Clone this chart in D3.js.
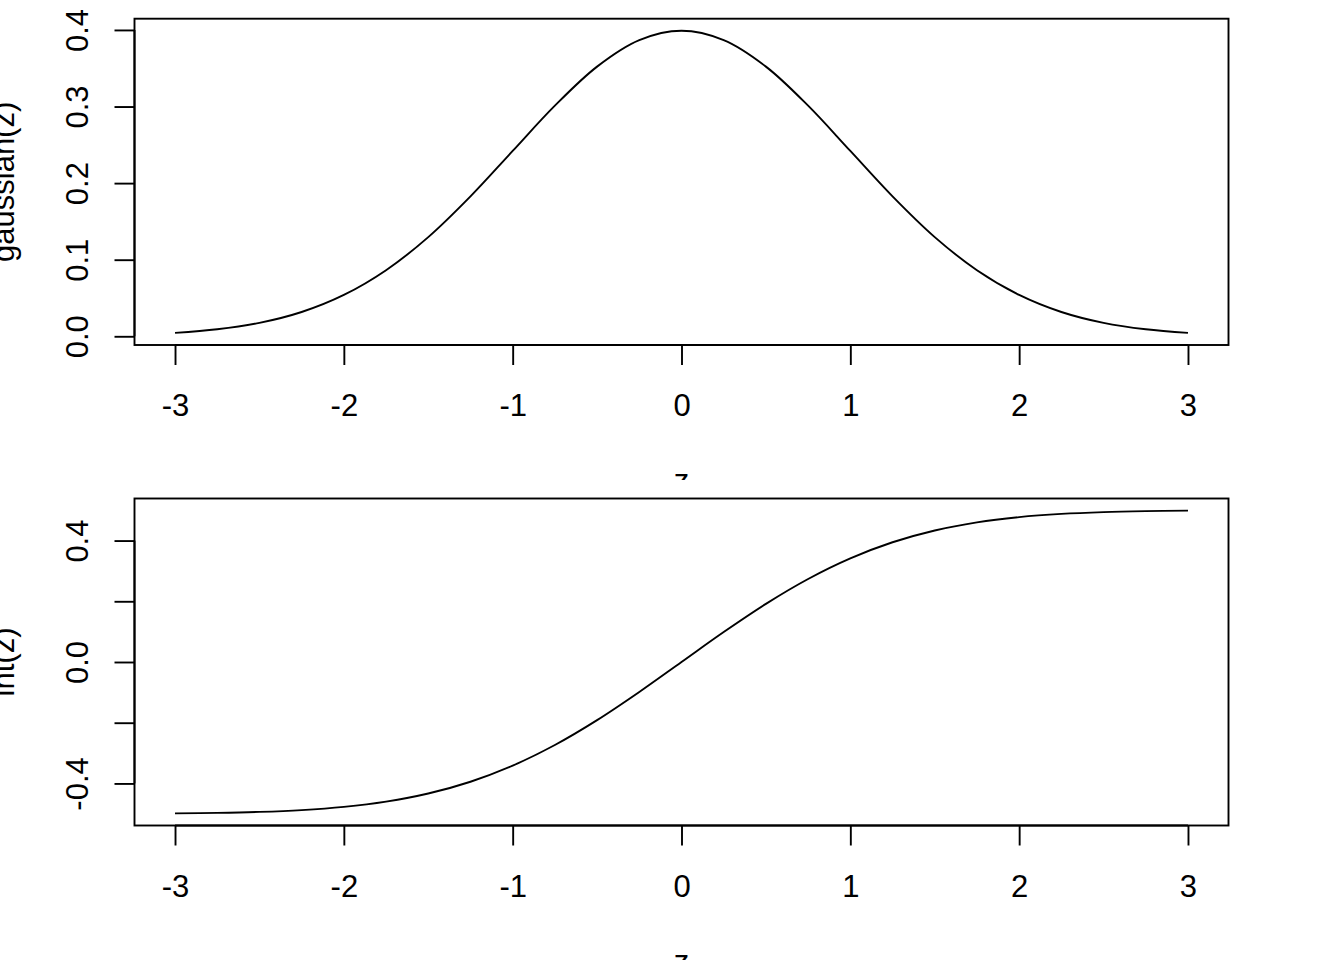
<!DOCTYPE html>
<html>
<head>
<meta charset="utf-8">
<script src="https://cdn.jsdelivr.net/npm/d3@7"></script>
<style>
  html, body { margin: 0; padding: 0; background: #fff; }
  svg { display: block; }
  text { font-family: "Liberation Sans", Arial, Helvetica, sans-serif; fill: #000; }
</style>
</head>
<body>
<svg id="chart" width="1344" height="960"></svg>
<script>
// z values (x axis), read at 0.25 steps
const zValues = [-3, -2.75, -2.5, -2.25, -2, -1.75, -1.5, -1.25, -1, -0.75, -0.5, -0.25, 0,
                 0.25, 0.5, 0.75, 1, 1.25, 1.5, 1.75, 2, 2.25, 2.5, 2.75, 3];
// top panel: gaussian(z)
const gaussianValues = [0.0044, 0.0091, 0.0175, 0.0317, 0.0540, 0.0863, 0.1295, 0.1827, 0.2420, 0.3011, 0.3521, 0.3867, 0.3989,
                        0.3867, 0.3521, 0.3011, 0.2420, 0.1827, 0.1295, 0.0863, 0.0540, 0.0317, 0.0175, 0.0091, 0.0044];
// bottom panel: int(z)
const intValues = [-0.4987, -0.4970, -0.4938, -0.4878, -0.4772, -0.4599, -0.4332, -0.3944, -0.3413, -0.2734, -0.1915, -0.0987, 0,
                   0.0987, 0.1915, 0.2734, 0.3413, 0.3944, 0.4332, 0.4599, 0.4772, 0.4878, 0.4938, 0.4970, 0.4987];
// tick values and labels
const xTicks = [-3, -2, -1, 0, 1, 2, 3];
const xTickLabels = ["-3", "-2", "-1", "0", "1", "2", "3"];
const yTicksTop = [0.0, 0.1, 0.2, 0.3, 0.4];
const yTickLabelsTop = ["0.0", "0.1", "0.2", "0.3", "0.4"];
const yTicksBottom = [-0.4, -0.2, 0.0, 0.2, 0.4];
const yTickLabelsBottom = ["-0.4", "", "0.0", "", "0.4"];
const xLabel = "z";
const yLabelTop = "gaussian(z)";
const yLabelBottom = "int(z)";

const svg = d3.select("#chart");
const FONT = 31;
const LW = 1.9;

// R-style 4% axis extension
function rDomain(vals) {
  const [a, b] = d3.extent(vals);
  const d = (b - a) * 0.04;
  return [a - d, b + d];
}

function panel(cfg) {
  const { figTop, boxTop, boxBottom, values, yTicks, yLabels, yLabel, id } = cfg;
  const left = 134.5, right = 1228.5;

  svg.append("clipPath").attr("id", "clip" + id)
    .append("rect").attr("x", 0).attr("y", figTop).attr("width", 1344).attr("height", 480);
  const g = svg.append("g").attr("clip-path", `url(#clip${id})`);

  const x = d3.scaleLinear().domain(rDomain(zValues)).range([left, right]);
  const y = d3.scaleLinear().domain(rDomain(values)).range([boxBottom, boxTop]);

  // curve
  const line = d3.line()
    .x((d, i) => x(zValues[i]))
    .y(d => y(d))
    .curve(d3.curveCatmullRom.alpha(0.5));
  g.append("path").datum(values)
    .attr("d", line)
    .attr("fill", "none")
    .attr("stroke", "#000")
    .attr("stroke-width", LW);

  // x axis
  const xAxis = d3.axisBottom(x).tickValues(xTicks)
    .tickFormat((d, i) => xTickLabels[i])
    .tickSize(20).tickPadding(0).tickSizeOuter(0);
  const gx = g.append("g").attr("transform", `translate(0,${boxBottom})`).call(xAxis);
  gx.select(".domain").attr("d", `M${x(xTicks[0])},0H${x(xTicks[xTicks.length - 1])}`)
    .attr("stroke", "#000").attr("stroke-width", LW);
  gx.selectAll(".tick line").attr("stroke", "#000").attr("stroke-width", LW);
  gx.selectAll(".tick text")
    .attr("y", 71).attr("dy", null)
    .style("font-size", FONT + "px")
    .style("font-family", '"Liberation Sans", Arial, sans-serif')
    .attr("fill", "#000");

  // y axis
  const yAxis = d3.axisLeft(y).tickValues(yTicks)
    .tickFormat((d, i) => yLabels[i])
    .tickSize(20).tickPadding(0).tickSizeOuter(0);
  const gy = g.append("g").attr("transform", `translate(${left},0)`).call(yAxis);
  gy.select(".domain").attr("d", `M0,${y(yTicks[0])}V${y(yTicks[yTicks.length - 1])}`)
    .attr("stroke", "#000").attr("stroke-width", LW);
  gy.selectAll(".tick line").attr("stroke", "#000").attr("stroke-width", LW);
  gy.selectAll(".tick text")
    .attr("x", null).attr("dy", null)
    .attr("text-anchor", "middle")
    .attr("transform", "translate(-47,0) rotate(-90)")
    .style("font-size", FONT + "px")
    .style("font-family", '"Liberation Sans", Arial, sans-serif')
    .attr("fill", "#000");

  // box
  g.append("rect")
    .attr("x", left).attr("y", boxTop)
    .attr("width", right - left).attr("height", boxBottom - boxTop)
    .attr("fill", "none").attr("stroke", "#000").attr("stroke-width", LW);

  // axis titles (clipped at the figure edge as in the reference)
  g.append("text")
    .attr("x", (left + right) / 2).attr("y", boxBottom + 146)
    .attr("text-anchor", "middle")
    .style("font-size", FONT + "px")
    .text(xLabel);
  g.append("text")
    .attr("transform", `translate(13.5,${(boxTop + boxBottom) / 2}) rotate(-90)`)
    .attr("text-anchor", "middle")
    .style("font-size", FONT + "px")
    .text(yLabel);
}

panel({ id: 1, figTop: 0, boxTop: 18.7, boxBottom: 345, values: gaussianValues,
        yTicks: yTicksTop, yLabels: yTickLabelsTop, yLabel: yLabelTop });
panel({ id: 2, figTop: 480, boxTop: 498.5, boxBottom: 825.5, values: intValues,
        yTicks: yTicksBottom, yLabels: yTickLabelsBottom, yLabel: yLabelBottom });
</script>
</body>
</html>
